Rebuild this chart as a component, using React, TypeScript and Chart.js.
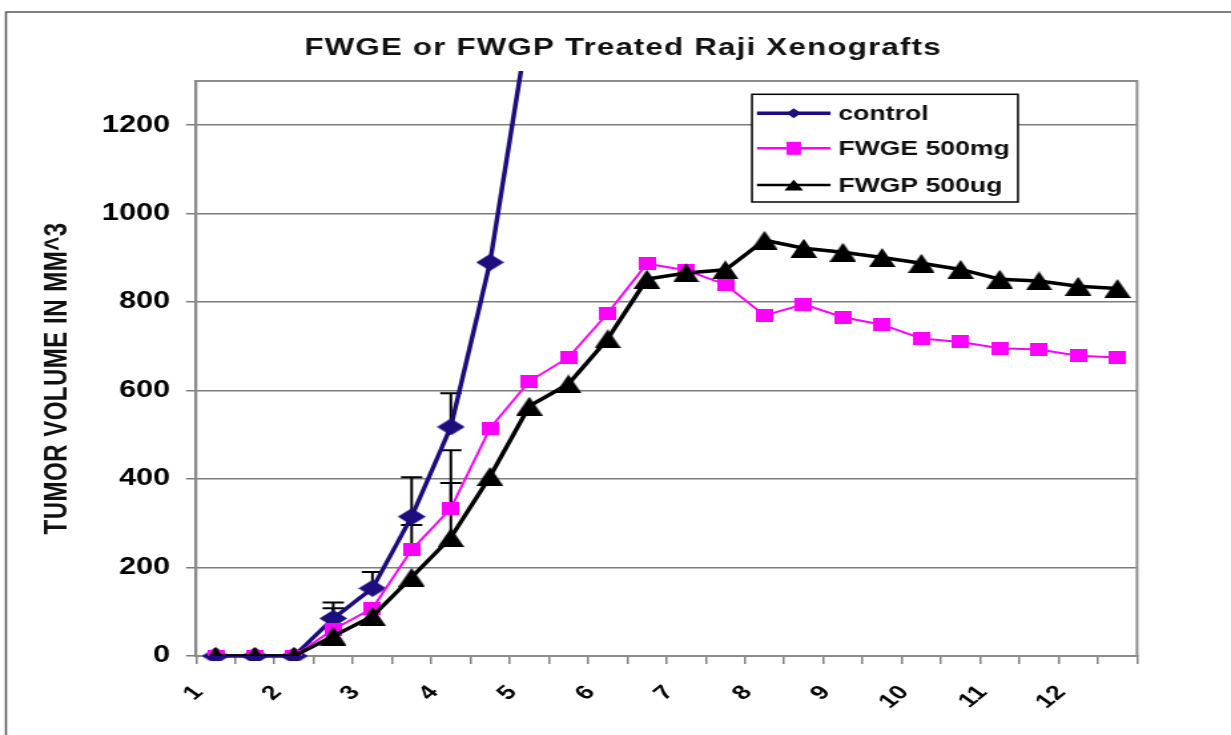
import React, { useEffect, useRef } from 'react';
import { Chart, registerables } from 'chart.js';

Chart.register(...registerables);

// ---------- data ----------
const xLabels = ['1', '', '2', '', '3', '', '4', '', '5', '', '6', '', '7', '', '8', '', '9', '', '10', '', '11', '', '12', ''];
const seriesNames = ['control', 'FWGE 500mg', 'FWGP 500ug'];
const controlValues = [0, 0, 0, 85, 153, 315, 518, 890, 1440];
const controlErrors = [0, 0, 0, 36, 37, 89, 76, 0, 0];
const fwgeValues = [0, 0, 0, 60, 108, 240, 334, 515, 621, 675, 775, 887, 872, 840, 770, 795, 766, 749, 718, 710, 696, 693, 679, 675];
const fwgeErrors = [0, 0, 0, 48, 0, 56, 131, 0, 0, 0, 0, 0, 0, 0, 0, 0, 0, 0, 0, 0, 0, 0, 0, 0];
const fwgpValues = [0, 0, 0, 45, 90, 178, 268, 406, 565, 615, 717, 852, 866, 873, 940, 922, 913, 901, 888, 874, 852, 848, 836, 831];
const fwgpErrors = [0, 0, 0, 0, 0, 0, 123, 0, 0, 0, 0, 0, 0, 0, 0, 0, 0, 0, 0, 0, 0, 0, 0, 0];
const yMin = 0;
const yMax = 1300;
const yStep = 200;
const yLastLabel = 1200;
const chartTitle = 'FWGE or FWGP Treated Raji Xenografts';
const yTitle = 'TUMOR VOLUME IN MM^3';

// ---------- layout / style ----------
const W = 925;
const H = 735;
const S = 1231 / W; // horizontal stretch of the reference picture
const FONT = '"Liberation Sans", Arial, Helvetica, sans-serif';
const NAVY = '#1d0d7e';
const PINK = '#ff00ff';
const BLACK = '#000000';
const PLOT_LEFT = 196 / S;
const PLOT_RIGHT = 1137 / S;
const PLOT_TOP = 81;
const PLOT_BOTTOM = 656;
const CAT_W = (PLOT_RIGHT - PLOT_LEFT) / xLabels.length;

function makeMarker(shape: string, w: number, h: number, color: string) {
  const c = document.createElement('canvas');
  c.width = w;
  c.height = h;
  const g = c.getContext('2d')!;
  g.fillStyle = color;
  g.beginPath();
  if (shape === 'diamond') {
    g.moveTo(w / 2, 0); g.lineTo(w, h / 2); g.lineTo(w / 2, h); g.lineTo(0, h / 2);
  } else if (shape === 'square') {
    g.rect(0, 0, w, h);
  } else {
    g.moveTo(w / 2, 0); g.lineTo(w, h); g.lineTo(0, h);
  }
  g.closePath();
  g.fill();
  return c;
}

function drawLegendMarker(ctx: CanvasRenderingContext2D, shape: string, x: number, y: number, w: number, h: number, color: string) {
  ctx.fillStyle = color;
  ctx.beginPath();
  if (shape === 'diamond') {
    ctx.moveTo(x, y - h / 2); ctx.lineTo(x + w / 2, y); ctx.lineTo(x, y + h / 2); ctx.lineTo(x - w / 2, y);
  } else if (shape === 'square') {
    ctx.rect(x - w / 2, y - h / 2, w, h);
  } else {
    ctx.moveTo(x, y - h / 2); ctx.lineTo(x + w / 2, y + h / 2); ctx.lineTo(x - w / 2, y + h / 2);
  }
  ctx.closePath();
  ctx.fill();
}

const errorSets = [controlErrors, fwgeErrors, fwgpErrors];
const shapes = ['diamond', 'square', 'triangle'];
const legendMarkerSizes = [[11, 10], [11, 13], [14, 11]];
const legendLineWidths = [3.5, 2.5, 2.5];

const decorPlugin = {
  id: 'decor',
  beforeDatasetsDraw(chart: any) {
    const { ctx, chartArea: a, scales } = chart;
    ctx.save();
    // error bars
    ctx.strokeStyle = '#000';
    ctx.lineWidth = 2;
    chart.data.datasets.forEach((ds: any, di: number) => {
      const errs = errorSets[di];
      errs.forEach((e: number, i: number) => {
        if (!e) return;
        const v = ds.data[i];
        const x = scales.x.getPixelForValue(i);
        const y0 = scales.y.getPixelForValue(v);
        const y1 = scales.y.getPixelForValue(v + e);
        ctx.beginPath();
        ctx.moveTo(x, y0); ctx.lineTo(x, y1);
        ctx.moveTo(x - 8, y1); ctx.lineTo(x + 8, y1);
        ctx.stroke();
      });
    });
    // plot area border
    ctx.strokeStyle = '#8c8c8c';
    ctx.lineWidth = 2;
    ctx.strokeRect(a.left, a.top, a.right - a.left, a.bottom - a.top);
    ctx.restore();
  },
  afterDraw(chart: any) {
    const { ctx } = chart;
    ctx.save();
    // outer frame
    ctx.strokeStyle = '#555';
    ctx.lineWidth = 1.5;
    ctx.strokeRect(4.5, 12, 3000, 3000);
    // title
    ctx.fillStyle = '#111';
    ctx.font = `bold 23.5px ${FONT}`;
    (ctx as any).letterSpacing = '0.9px';
    ctx.textAlign = 'center';
    ctx.textBaseline = 'alphabetic';
    ctx.fillText(chartTitle, 623 / S, 55);
    (ctx as any).letterSpacing = '0px';
    // y axis title
    ctx.save();
    ctx.translate(57.5 / S, 378.5);
    ctx.rotate(-Math.PI / 2);
    ctx.font = `bold 24px ${FONT}`;
    (ctx as any).letterSpacing = '0.5px';
    ctx.textAlign = 'center';
    ctx.textBaseline = 'middle';
    ctx.fillText(yTitle, 0, 0);
    ctx.restore();
    // legend
    const bx = 752 / S, bx2 = 1018 / S, by = 94.3, by2 = 202;
    ctx.fillStyle = '#fff';
    ctx.fillRect(bx, by, bx2 - bx, by2 - by);
    ctx.strokeStyle = '#000';
    ctx.lineWidth = 1.5;
    ctx.strokeRect(bx, by, bx2 - bx, by2 - by);
    const rows = [113.3, 148.3, 185];
    const lx1 = 757 / S, lx2 = 830.5 / S, tx = 838.3 / S;
    chart.data.datasets.forEach((ds: any, i: number) => {
      const y = rows[i];
      ctx.strokeStyle = ds.borderColor;
      ctx.lineWidth = legendLineWidths[i];
      ctx.beginPath(); ctx.moveTo(lx1, y); ctx.lineTo(lx2, y); ctx.stroke();
      const [mw, mh] = legendMarkerSizes[i];
      drawLegendMarker(ctx, shapes[i], (lx1 + lx2) / 2, y, mw, mh, ds.borderColor);
      ctx.fillStyle = '#111';
      ctx.font = `bold 20px ${FONT}`;
      ctx.textAlign = 'left';
      ctx.textBaseline = 'middle';
      ctx.fillText(ds.label, tx, y + 1);
    });
    ctx.restore();
  },
};

export default function App() {
  const ref = useRef<HTMLCanvasElement>(null);
  useEffect(() => {
    const diamond = makeMarker('diamond', 21, 17, NAVY);
    const square = makeMarker('square', 13, 13, PINK);
    const triangle = makeMarker('triangle', 20, 19, BLACK);
    const chart = new Chart(ref.current!, {
      type: 'line',
      data: {
        labels: xLabels,
        datasets: [
          {
            label: seriesNames[0], data: controlValues, borderColor: NAVY, backgroundColor: NAVY,
            borderWidth: 3.5, pointStyle: diamond as any, pointRadius: 8, tension: 0, order: 2,
            clip: { left: 5, top: 10, right: 5, bottom: 5 } as any,
          },
          {
            label: seriesNames[1], data: fwgeValues, borderColor: PINK, backgroundColor: PINK,
            borderWidth: 2, pointStyle: square as any, pointRadius: 7, tension: 0, order: 1,
          },
          {
            label: seriesNames[2], data: fwgpValues, borderColor: BLACK, backgroundColor: BLACK,
            borderWidth: 3.5, pointStyle: triangle as any, pointRadius: 9, tension: 0, order: 0,
          },
        ],
      },
      options: {
        animation: false,
        responsive: true,
        maintainAspectRatio: false,
        events: [],
        layout: { padding: { top: PLOT_TOP, right: W - PLOT_RIGHT, left: 0, bottom: 0 } },
        plugins: { legend: { display: false }, title: { display: false }, tooltip: { enabled: false } },
        scales: {
          x: {
            type: 'category',
            offset: true,
            grid: { display: true, drawOnChartArea: false, drawTicks: true, tickLength: 8, offset: true, color: '#808080', lineWidth: 1.5 },
            border: { display: true, color: '#808080', width: 2 },
            ticks: {
              autoSkip: false, maxRotation: 47, minRotation: 47, labelOffset: -CAT_W / 2 + 2, padding: 17,
              color: '#000', font: { family: FONT, size: 20, weight: 'bold' },
            },
            afterFit: (s: any) => { s.height = H - PLOT_BOTTOM; },
          },
          y: {
            min: yMin, max: yMax,
            ticks: {
              stepSize: yStep, padding: 12, color: '#000', font: { family: FONT, size: 23, weight: 'bold' },
              callback: (v: any) => String(v),
            },
            afterBuildTicks: (s: any) => { s.ticks = s.ticks.filter((t: any) => t.value <= yLastLabel); },
            grid: { color: '#7e7e7e', lineWidth: 1.5, tickLength: 7.5, drawTicks: true },
            border: { display: true, color: '#707070', width: 2 },
            afterFit: (s: any) => { s.width = PLOT_LEFT; },
          },
        },
      } as any,
      plugins: [decorPlugin],
    });
    return () => chart.destroy();
  }, []);
  return (
    <div style={{ position: 'fixed', left: 0, top: 0, width: 1231, height: 735, overflow: 'hidden', background: '#fff' }}>
      <div style={{ position: 'absolute', left: 0, top: 0, width: W, height: H, transform: `scaleX(${S})`, transformOrigin: '0 0' }}>
        <canvas ref={ref} />
      </div>
    </div>
  );
}
